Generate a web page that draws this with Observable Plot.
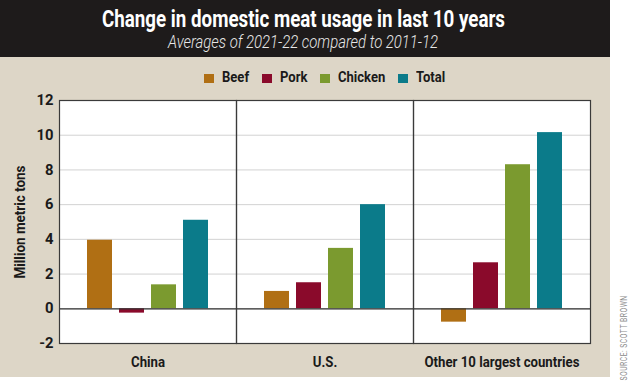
<!DOCTYPE html>
<html><head><meta charset="utf-8">
<script src="https://cdn.jsdelivr.net/npm/d3@7"></script>
<script src="https://cdn.jsdelivr.net/npm/@observablehq/plot@0.6"></script>
<style>
body{margin:0;background:#fff;}
#wrap{position:relative;width:634px;height:384px;background:#fff;overflow:hidden;font-family:Roboto,"DejaVu Sans",sans-serif;}
#panel{position:absolute;left:0;top:0;width:610px;height:377px;background:#ddd6c7;}
#head{position:absolute;left:0;top:0;width:610px;height:57px;background:#1e1b1b;}
.line{position:absolute;white-space:nowrap;line-height:1;transform-origin:0 0;}
#title{top:10.1px;line-height:20px;color:#fff;font-weight:bold;font-size:23px;}
#sub{top:32.5px;color:#e8e8e8;font-style:italic;font-weight:300;font-size:18.5px;}
#legend{top:71px;font-weight:bold;font-size:14.5px;color:#1a1a1a;display:flex;align-items:center;}
#legend .item{display:flex;align-items:center;margin-right:13px;}
#legend .item:last-child{margin-right:0;}
#legend .sw{display:inline-block;width:10px;height:9.5px;margin-right:8px;}
#legend .lab{display:inline-block;overflow:visible;}
#legend .lab span{display:inline-block;transform-origin:0 50%;}
#ylab{position:absolute;left:20px;top:221.5px;transform:translate(-50%,-50%) rotate(-90deg);white-space:nowrap;font-weight:bold;font-size:15px;color:#1a1a1a;line-height:1;}
#chart{position:absolute;left:0;top:88px;}
#src{position:absolute;left:623.5px;top:337.5px;transform:translate(-50%,-50%) rotate(-90deg);white-space:nowrap;font-size:8.5px;color:#8a8a8a;letter-spacing:0.6px;line-height:1;}
</style></head>
<body>
<div id="wrap">
<div id="panel"></div>
<div id="head"></div>
<div id="title" class="line">Change in domestic meat usage in last 10 years</div>
<div id="sub" class="line">Averages of 2021-22 compared to 2011-12</div>
<div id="legend" class="line"></div>
<div id="ylab">Million metric tons</div>
<div id="chart"></div>
<div id="src">SOURCE: SCOTT BROWN</div>
</div>
<script>
const regions = ["China", "U.S.", "Other 10 largest countries"];
const meats = ["Beef", "Pork", "Chicken", "Total"];
const colors = ["#b06f14", "#8a0a2b", "#7b9a2f", "#0b7b8a"];
const beef = [3.95, 1.0, -0.77];
const pork = [-0.25, 1.5, 2.65];
const chicken = [1.38, 3.48, 8.3];
const total = [5.1, 6.0, 10.15];
const yTicks = [-2, 0, 2, 4, 6, 8, 10, 12];

const series = [beef, pork, chicken, total];
const data = [];
regions.forEach((r, i) => meats.forEach((m, j) => data.push({region: r, meat: m, value: series[j][i]})));

// legend built from the same arrays
const leg = document.getElementById("legend");
meats.forEach((m, j) => {
  const s = document.createElement("div");
  s.className = "item";
  s.innerHTML = `<span class="sw" style="background:${colors[j]}"></span><span class="lab"><span>${m}</span></span>`;
  leg.appendChild(s);
});
(function(){
  const labs = [...leg.querySelectorAll(".lab span")];
  const widths = labs.map(l => l.getBoundingClientRect().width);
  const k = 131 / widths.reduce((a, b) => a + b, 0);
  labs.forEach((l, i) => {
    l.style.transform = `scaleX(${k})`;
    l.parentNode.style.width = (widths[i] * k) + "px";
  });
  const w = leg.getBoundingClientRect().width;
  leg.style.left = (324.5 - w / 2) + "px";
})();

// horizontally fit an HTML line to a given width, centred at cx
function fit(id, width, cx) {
  const el = document.getElementById(id);
  const w = el.getBoundingClientRect().width;
  el.style.left = (cx - width / 2) + "px";
  el.style.transform = `scaleX(${width / w})`;
}
fit("title", 403, 303.5);
fit("sub", 270, 303);
function fitRot(id, len) {
  const el = document.getElementById(id);
  const w = el.getBoundingClientRect().height;
  el.style.transform = `translate(-50%,-50%) rotate(-90deg) scaleX(${len / w})`;
}
fitRot("ylab", 113);
fitRot("src", 85);

const chart = Plot.plot({
  width: 610,
  height: 289,
  marginTop: 12,
  marginBottom: 34,
  marginLeft: 58,
  marginRight: 19,
  style: {background: "transparent", fontFamily: "Roboto,'DejaVu Sans',sans-serif", fontWeight: "bold", color: "#1a1a1a"},
  fx: {domain: regions, padding: 0, label: null},
  x: {domain: meats, paddingInner: 0.22, paddingOuter: 0.83, axis: null},
  y: {domain: [-2, 12], ticks: yTicks, label: null},
  color: {domain: meats, range: colors},
  marks: [
    Plot.frame({fill: "white"}),
    Plot.gridY(yTicks.filter(t => t > -2 && t < 12), {stroke: "#d2d2d2", strokeOpacity: 1}),
    Plot.barY(data, {fx: "region", x: "meat", y: "value", fill: "meat"}),
    Plot.ruleY([0], {stroke: "#333", strokeWidth: 1.2}),
    Plot.frame({stroke: "#3a3a3a", strokeWidth: 1.2}),
    Plot.axisY(yTicks, {tickSize: 0, tickPadding: 6, fontSize: 14.5, fontWeight: "bold", tickFormat: d => String(d), className: "yax"}),
    Plot.axisFx({anchor: "bottom", tickSize: 0, tickPadding: 12, fontSize: 15.5, fontWeight: "bold", label: null, className: "fxax"})
  ]
});
document.getElementById("chart").appendChild(chart);

// condense SVG axis text like the reference's compressed typeface
function condense(sel, k) {
  chart.querySelectorAll(sel).forEach(t => {
    const len = t.getComputedTextLength();
    t.setAttribute("textLength", len * k);
    t.setAttribute("lengthAdjust", "spacingAndGlyphs");
  });
}
(function(){
  const texts = [...chart.querySelectorAll(".fxax text")];
  const longest = texts.find(t => t.textContent.startsWith("Other"));
  condense(".fxax text", longest ? 155 / longest.getComputedTextLength() : 0.75);
  const t12 = [...chart.querySelectorAll(".yax text")].find(t => t.textContent === "12");
  condense(".yax text", t12 ? 17 / t12.getComputedTextLength() : 0.85);
})();
</script>
</body></html>
